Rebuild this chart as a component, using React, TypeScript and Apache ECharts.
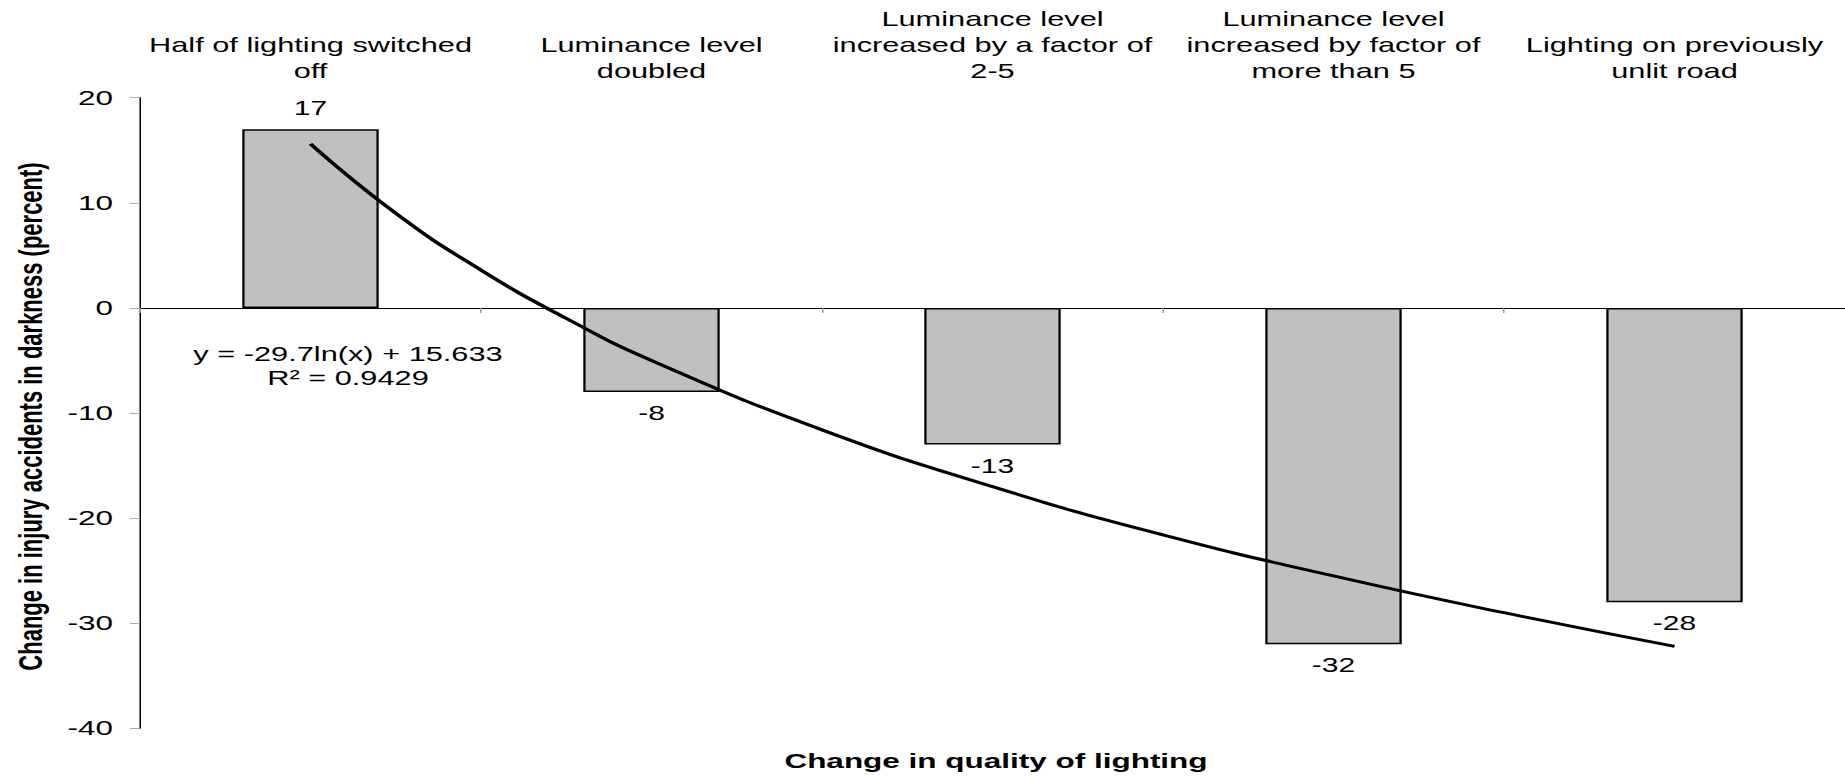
import React, { useEffect, useRef } from "react";
import * as echarts from "echarts";

// ---- data ----
const categories = [
  "Half of lighting switched\noff",
  "Luminance level\ndoubled",
  "Luminance level\nincreased by a factor of\n2-5",
  "Luminance level\nincreased by factor of\nmore than 5",
  "Lighting on previously\nunlit road",
];
const changes = [17, -8, -13, -32, -28];
// trend line points (x = category position, 1-based)
const trendX = [1, 1.25, 1.5, 1.75, 2, 2.5, 3, 3.5, 4, 4.5, 5];
const trendY = [15.6, 9.0, 3.6, -1.0, -5.0, -11.6, -17.0, -21.6, -25.5, -29.0, -32.2];
const yMin = -40;
const yMax = 20;
const yStep = 10;
const equationLines = ["y = -29.7ln(x) + 15.633", "R\u00b2 = 0.9429"];
const xTitle = "Change in quality of lighting";
const yTitle = "Change in injury accidents in darkness (percent)";

const FULL_W = 1845;
const FULL_H = 777;
const SX = 1.5; // horizontal stretch of the original picture
const W = FULL_W / SX;
const FONT = "'Liberation Sans', Arial, Helvetica, sans-serif";

export default function App() {
  const ref = useRef<HTMLDivElement>(null);
  useEffect(() => {
    if (!ref.current) return;
    const chart = echarts.init(ref.current, undefined, { renderer: "svg" });
    chart.setOption({
      animation: false,
      backgroundColor: "#fff",
      grid: { left: 140 / SX, right: 0, top: 97.7, bottom: FULL_H - 728.3, containLabel: false },
      xAxis: [
        {
          type: "category",
          data: categories,
          position: "bottom",
          axisLine: { show: true, onZero: true, lineStyle: { color: "#000", width: 1 } },
          axisTick: { show: true, length: 5, lineStyle: { color: "#999" } },
          axisLabel: { show: false },
          splitLine: { show: false },
        },
        {
          type: "category",
          data: categories,
          position: "top",
          axisLine: { show: false },
          axisTick: { show: false },
          axisLabel: {
            show: true,
            interval: 0,
            margin: 13.5,
            fontSize: 20.5,
            lineHeight: 26,
            color: "#000",
            fontFamily: FONT,
            align: "center",
          },
          splitLine: { show: false },
        },
        {
          type: "value",
          min: 0.5,
          max: 5.5,
          show: false,
        },
      ],
      yAxis: {
        type: "value",
        min: yMin,
        max: yMax,
        interval: yStep,
        axisLine: { show: true, lineStyle: { color: "#000", width: 1 } },
        axisTick: { show: true, length: 10 / SX, lineStyle: { color: "#aaa" } },
        axisLabel: { fontSize: 21, color: "#000", margin: 18, fontFamily: FONT },
        splitLine: { show: false },
      },
      series: [
        {
          type: "bar",
          xAxisIndex: 0,
          yAxisIndex: 0,
          barWidth: "40%",
          data: changes.map((v) => ({
            value: v,
            label: { position: v >= 0 ? "top" : "bottom" },
          })),
          itemStyle: { color: "#c0c0c0", borderColor: "#000", borderWidth: 1.5 },
          label: {
            show: true,
            distance: 11,
            fontSize: 20,
            color: "#000",
            fontFamily: FONT,
          },
          z: 2,
        },
        {
          type: "line",
          xAxisIndex: 2,
          yAxisIndex: 0,
          data: trendX.map((x, i) => [x, trendY[i]]),
          smooth: true,
          symbol: "none",
          lineStyle: { color: "#000", width: 3 },
          z: 3,
        },
      ],
      graphic: [
        {
          type: "text",
          x: 348 / SX,
          y: 366,
          style: {
            text: equationLines.join("\n"),
            fontSize: 20.5,
            lineHeight: 24,
            fontFamily: FONT,
            fill: "#000",
            align: "center",
            verticalAlign: "middle",
          },
          z: 10,
        },
        {
          type: "text",
          x: 996 / SX,
          y: 761,
          style: {
            text: xTitle,
            fontSize: 21,
            fontWeight: "bold",
            fontFamily: FONT,
            fill: "#000",
            align: "center",
            verticalAlign: "middle",
          },
        },
        {
          type: "text",
          x: 30.5 / SX,
          y: 416.5,
          rotation: Math.PI / 2,
          style: {
            text: yTitle,
            fontSize: 22,
            fontWeight: "bold",
            fontFamily: FONT,
            fill: "#000",
            align: "center",
            verticalAlign: "middle",
          },
        },
      ],
    });
    return () => chart.dispose();
  }, []);
  return (
    <div
      style={{
        position: "fixed",
        left: 0,
        top: 0,
        width: FULL_W,
        height: FULL_H,
        overflow: "hidden",
        background: "#fff",
      }}
    >
      <div
        ref={ref}
        style={{
          width: W,
          height: FULL_H,
          transform: `scaleX(${SX})`,
          transformOrigin: "0 0",
        }}
      />
    </div>
  );
}
